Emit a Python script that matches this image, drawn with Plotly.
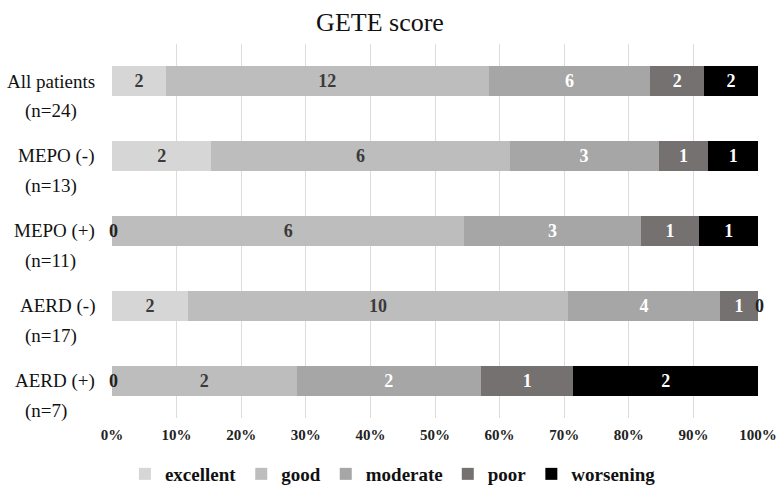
import plotly.graph_objects as go

groups = ["All patients", "MEPO (-)", "MEPO (+)", "AERD (-)", "AERD (+)"]
group_n = ["(n=24)", "(n=13)", "(n=11)", "(n=17)", "(n=7)"]
series_names = ["excellent", "good", "moderate", "poor", "worsening"]
excellent = [2, 2, 0, 2, 0]
good = [12, 6, 6, 10, 2]
moderate = [6, 3, 3, 4, 2]
poor = [2, 1, 1, 1, 1]
worsening = [2, 1, 1, 0, 2]
x_ticks = [0, 10, 20, 30, 40, 50, 60, 70, 80, 90, 100]
x_tick_labels = ["0%", "10%", "20%", "30%", "40%", "50%", "60%", "70%", "80%", "90%", "100%"]

series = [excellent, good, moderate, poor, worsening]
colors = ["#d6d6d6", "#bdbdbd", "#a6a6a6", "#767171", "#000000"]
text_colors = ["#3a3a3a", "#3a3a3a", "#ffffff", "#ffffff", "#ffffff"]
FONT = "Liberation Serif"

fig = go.Figure()
for name, vals, col, tcol in zip(series_names, series, colors, text_colors):
    fig.add_trace(go.Bar(
        name=name, y=groups, x=vals, orientation="h",
        marker=dict(color=col, line=dict(width=0)),
        text=[str(v) if v > 0 else "" for v in vals],
        textposition="inside", insidetextanchor="middle", textangle=0,
        constraintext="none",
        textfont=dict(family=FONT, size=18, color=tcol, weight="bold"),
        hoverinfo="skip",
    ))

annotations = []
totals = [sum(s[i] for s in series) for i in range(len(groups))]
for i, g in enumerate(groups):
    annotations.append(dict(x=0, xref="paper", y=g, yref="y", text=g, showarrow=False,
                            xanchor="right", xshift=-15, yanchor="middle",
                            font=dict(family=FONT, size=19, color="#111")))
    annotations.append(dict(x=0, xref="paper", y=g, yref="y", text=group_n[i], showarrow=False,
                            xanchor="left", xshift=-89, yshift=-30, yanchor="middle",
                            font=dict(family=FONT, size=19, color="#111")))
    cum = 0
    for s in series:
        if s[i] == 0:
            annotations.append(dict(x=cum / totals[i] * 100, xref="x", y=g, yref="y", text="<b>0</b>",
                                    showarrow=False, xanchor="center", xshift=1,
                                    font=dict(family=FONT, size=18, color="#222")))
        cum += s[i]

fig.update_layout(
    barmode="stack", barnorm="percent", bargap=0.6,
    width=778, height=488,
    margin=dict(l=112, r=20, t=44, b=70, autoexpand=False),
    paper_bgcolor="white", plot_bgcolor="white",
    title=dict(text="GETE score", x=380 / 778, xanchor="center", y=1 - 22 / 488, yanchor="middle",
               font=dict(family=FONT, size=26, color="#111")),
    xaxis=dict(range=[0, 100], tickvals=x_ticks, ticktext=["<b>%s</b>" % t for t in x_tick_labels],
               showgrid=True, gridcolor="#dcdcdc", gridwidth=1, zeroline=False, showline=False,
               ticklabelstandoff=6, automargin=False,
               tickfont=dict(family=FONT, size=15, color="#222")),
    yaxis=dict(categoryorder="array", categoryarray=groups, range=[4.5, -0.5],
               showticklabels=False, showgrid=False, zeroline=False, automargin=False),
    legend=dict(orientation="h", xref="container", x=0.505, xanchor="center",
                yref="container", y=1 - 474 / 488, yanchor="middle",
                font=dict(family=FONT, size=19, color="#111", weight="bold"),
                itemwidth=30, traceorder="normal"),
    annotations=annotations,
    showlegend=True,
)

fig.write_html("out.html", config={"displayModeBar": False},
               post_script="document.body.style.margin='0px';")
